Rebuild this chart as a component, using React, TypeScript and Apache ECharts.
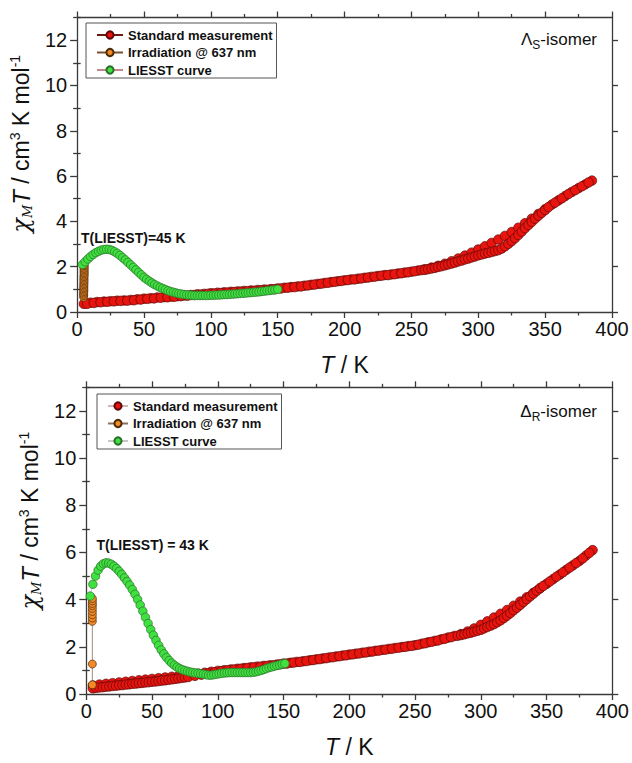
import React, { useEffect, useRef } from "react";
import * as echarts from "echarts";

const FONT = "'Liberation Sans', Arial, Helvetica, sans-serif";
const SERIF = "'DejaVu Serif', 'Liberation Serif', serif";

const xTickInterval = 50;
const yMajorTicks = [0, 2, 4, 6, 8, 10, 12];
const yMinorTicks = [1, 3, 5, 7, 9, 11, 13];
const legendNames = ["Standard measurement", "Irradiation @ 637 nm", "LIESST curve"];

// ---------- Λ_S-isomer (top panel) ----------
const lambdaStdHeating = [
  [5, 0.36], [10, 0.41], [15, 0.44], [20, 0.46], [25, 0.48], [30, 0.5], [35, 0.51], [40, 0.53], [45, 0.56], [50, 0.59],
  [55, 0.61], [60, 0.64], [65, 0.66], [70, 0.68], [75, 0.7], [80, 0.73], [85, 0.75], [90, 0.78], [95, 0.8], [100, 0.83],
  [105, 0.85], [110, 0.87], [115, 0.89], [120, 0.91], [125, 0.93], [130, 0.95], [135, 0.97], [140, 0.99], [145, 1.01], [150, 1.04],
  [155, 1.07], [160, 1.1], [165, 1.13], [170, 1.16], [175, 1.2], [180, 1.24], [185, 1.28], [190, 1.32], [195, 1.36], [200, 1.4],
  [205, 1.44], [210, 1.47], [215, 1.51], [220, 1.55], [225, 1.59], [230, 1.63], [235, 1.66], [240, 1.7], [245, 1.74], [250, 1.78],
  [255, 1.83], [260, 1.89], [265, 1.96], [270, 2.04], [275, 2.13], [280, 2.24], [285, 2.36], [290, 2.49], [295, 2.62], [300, 2.76],
  [305, 2.9], [310, 3.05], [315, 3.2], [320, 3.36], [325, 3.53], [330, 3.72], [335, 3.92], [340, 4.12], [345, 4.33], [350, 4.54],
  [355, 4.74], [360, 4.93], [365, 5.12], [370, 5.3], [375, 5.47], [380, 5.63], [385, 5.8],
];
const lambdaStdCooling = [
  [7.5, 0.36], [12.5, 0.4], [17.5, 0.43], [22.5, 0.45], [27.5, 0.47], [32.5, 0.49], [37.5, 0.5], [42.5, 0.52], [47.5, 0.55],
  [52.5, 0.58], [57.5, 0.6], [62.5, 0.63], [67.5, 0.65], [72.5, 0.67], [77.5, 0.7], [82.5, 0.72], [87.5, 0.75], [92.5, 0.77],
  [97.5, 0.8], [102.5, 0.82], [107.5, 0.84], [112.5, 0.86], [117.5, 0.88], [122.5, 0.9], [127.5, 0.92], [132.5, 0.94],
  [137.5, 0.96], [142.5, 0.98], [147.5, 1.01], [152.5, 1.04], [157.5, 1.07], [162.5, 1.1], [167.5, 1.13], [172.5, 1.17],
  [177.5, 1.21], [182.5, 1.25], [187.5, 1.29], [192.5, 1.33], [197.5, 1.37], [202.5, 1.41], [207.5, 1.44], [212.5, 1.48],
  [217.5, 1.52], [222.5, 1.56], [227.5, 1.6], [232.5, 1.63], [237.5, 1.67], [242.5, 1.71], [247.5, 1.75], [252.5, 1.8],
  [257.5, 1.85], [260, 1.86], [262.5, 1.89], [265, 1.92], [267.5, 1.95], [270, 1.99], [272.5, 2.02], [275, 2.06], [277.5, 2.1],
  [280, 2.14], [282.5, 2.18], [285, 2.23], [287.5, 2.27], [290, 2.32], [292.5, 2.36], [295, 2.41], [297.5, 2.45], [300, 2.5],
  [302.5, 2.54], [305, 2.58], [307.5, 2.61], [310, 2.65], [312.5, 2.69], [315, 2.73], [317.5, 2.8], [320, 2.9], [322.5, 3.01],
  [325, 3.13], [327.5, 3.26], [330, 3.4], [332.5, 3.55], [335, 3.7], [337.5, 3.84], [340, 3.98], [342.5, 4.12], [345, 4.25],
  [347.5, 4.38], [350, 4.5], [352.5, 4.63], [357.5, 4.83], [362.5, 5.02], [367.5, 5.21], [372.5, 5.38], [377.5, 5.55],
  [382.5, 5.72],
];
const lambdaIrradiation = [
  [4.9, 0.65], [4.9, 0.72], [4.9, 0.78], [4.9, 0.84], [5.0, 0.9], [5.0, 0.96], [5.0, 1.02], [5.0, 1.08], [5.0, 1.14],
  [5.0, 1.2], [5.1, 1.26], [5.1, 1.32], [5.1, 1.38], [5.1, 1.44], [5.1, 1.5], [5.1, 1.56], [5.2, 1.62], [5.2, 1.68],
  [5.2, 1.74], [5.2, 1.8], [5.2, 1.86], [5.2, 1.92], [5.2, 1.98], [5.2, 2.04], [5.2, 2.08],
];
const lambdaLiesst = [
  [4, 2.1], [6, 2.22], [8, 2.34], [10, 2.45], [12, 2.54], [14, 2.62], [16, 2.68], [18, 2.73], [20, 2.76], [22, 2.77],
  [24, 2.76], [26, 2.72], [28, 2.66], [30, 2.59], [32, 2.5], [34, 2.4], [36, 2.3], [38, 2.19], [40, 2.08], [42, 1.97],
  [44, 1.86], [46, 1.75], [48, 1.64], [50, 1.53], [52, 1.44], [54, 1.36], [56, 1.28], [58, 1.21], [60, 1.15], [62, 1.09],
  [64, 1.04], [66, 0.99], [68, 0.94], [70, 0.9], [72, 0.87], [74, 0.84], [76, 0.81], [78, 0.79], [80, 0.77], [82, 0.76],
  [84, 0.75], [86, 0.74], [88, 0.73], [90, 0.73], [92, 0.73], [94, 0.73], [96, 0.73], [98, 0.73], [100, 0.74], [102, 0.74],
  [104, 0.75], [106, 0.75], [108, 0.76], [110, 0.77], [112, 0.77], [114, 0.78], [116, 0.79], [118, 0.8], [120, 0.81], [122, 0.82],
  [124, 0.83], [126, 0.84], [128, 0.85], [130, 0.86], [132, 0.87], [134, 0.88], [136, 0.89], [138, 0.91], [140, 0.92], [142, 0.94],
  [144, 0.95], [146, 0.97], [148, 0.98], [150, 1.0],
];

// ---------- Δ_R-isomer (bottom panel) ----------
const deltaStdHeating = [
  [5, 0.36], [10, 0.4], [15, 0.43], [20, 0.46], [25, 0.49], [30, 0.52], [35, 0.55], [40, 0.58], [45, 0.61], [50, 0.64],
  [55, 0.67], [60, 0.7], [65, 0.73], [70, 0.76], [75, 0.79], [80, 0.82], [85, 0.86], [90, 0.9], [95, 0.94], [100, 0.98],
  [105, 1.01], [110, 1.04], [115, 1.07], [120, 1.1], [125, 1.13], [130, 1.16], [135, 1.19], [140, 1.22], [145, 1.25], [150, 1.29],
  [155, 1.32], [160, 1.36], [165, 1.39], [170, 1.43], [175, 1.47], [180, 1.51], [185, 1.55], [190, 1.59], [195, 1.63], [200, 1.67],
  [205, 1.71], [210, 1.75], [215, 1.79], [220, 1.83], [225, 1.87], [230, 1.91], [235, 1.95], [240, 1.99], [245, 2.03], [250, 2.07],
  [255, 2.13], [260, 2.19], [265, 2.25], [270, 2.32], [275, 2.39], [280, 2.46], [285, 2.54], [290, 2.65], [295, 2.78], [300, 2.93],
  [305, 3.08], [310, 3.24], [315, 3.4], [320, 3.56], [325, 3.74], [330, 3.92], [335, 4.1], [340, 4.29], [345, 4.48], [350, 4.67],
  [355, 4.87], [360, 5.06], [365, 5.26], [370, 5.45], [375, 5.64], [380, 5.87], [385, 6.1],
];
const deltaStdCooling = [
  [5, 0.24], [7.5, 0.26], [10, 0.28], [12.5, 0.29], [15, 0.31], [17.5, 0.32], [20, 0.34], [22.5, 0.35], [25, 0.37],
  [27.5, 0.38], [30, 0.4], [32.5, 0.41], [35, 0.43], [37.5, 0.44], [40, 0.46], [42.5, 0.47], [45, 0.49], [47.5, 0.5],
  [50, 0.52], [52.5, 0.53], [55, 0.55], [57.5, 0.57], [60, 0.58], [62.5, 0.6], [65, 0.62], [67.5, 0.64], [70, 0.66],
  [72.5, 0.68], [75, 0.7], [77.5, 0.72], [82.5, 0.77], [87.5, 0.82], [92.5, 0.87], [97.5, 0.92], [102.5, 0.97], [107.5, 1.01],
  [112.5, 1.04], [117.5, 1.07], [122.5, 1.1], [127.5, 1.13], [132.5, 1.16], [137.5, 1.19], [142.5, 1.22], [147.5, 1.26],
  [152.5, 1.29], [157.5, 1.33], [162.5, 1.36], [167.5, 1.4], [172.5, 1.44], [177.5, 1.48], [182.5, 1.52], [187.5, 1.56],
  [192.5, 1.6], [197.5, 1.64], [202.5, 1.68], [207.5, 1.72], [212.5, 1.76], [217.5, 1.8], [222.5, 1.84], [227.5, 1.88],
  [232.5, 1.92], [237.5, 1.96], [242.5, 2.0], [247.5, 2.04], [252.5, 2.09], [257.5, 2.15], [262.5, 2.21], [267.5, 2.27],
  [272.5, 2.34], [277.5, 2.41], [282.5, 2.47], [285, 2.5], [287.5, 2.53], [290, 2.57], [292.5, 2.6], [295, 2.64], [297.5, 2.68],
  [300, 2.72], [302.5, 2.78], [305, 2.84], [307.5, 2.9], [310, 2.96], [312.5, 3.04], [315, 3.12], [317.5, 3.22], [320, 3.32],
  [322.5, 3.43], [325, 3.55], [327.5, 3.66], [330, 3.78], [332.5, 3.9], [335, 4.02], [337.5, 4.14], [340, 4.25], [342.5, 4.37],
  [345, 4.48], [347.5, 4.58], [352.5, 4.77], [357.5, 4.97], [362.5, 5.16], [367.5, 5.36], [372.5, 5.55], [377.5, 5.75],
  [382.5, 5.98],
];
const deltaIrradiation = [
  [4.6, 0.39], [4.6, 1.27], [4.6, 3.08], [4.6, 3.22], [4.6, 3.36], [4.6, 3.5], [4.6, 3.63], [4.6, 3.75], [4.6, 3.84],
  [4.6, 3.95], [4.6, 4.05],
];
const deltaLiesst = [
  [3, 4.15], [5, 4.65], [7, 5.0], [9, 5.25], [11, 5.42], [13, 5.52], [15, 5.56], [17, 5.55], [19, 5.5], [21, 5.42],
  [23, 5.32], [25, 5.2], [27, 5.07], [29, 4.92], [31, 4.77], [33, 4.61], [35, 4.43], [37, 4.23], [39, 4.01], [41, 3.77],
  [43, 3.51], [45, 3.25], [47, 2.99], [49, 2.73], [51, 2.49], [53, 2.27], [55, 2.06], [57, 1.87], [59, 1.7], [61, 1.55],
  [63, 1.42], [65, 1.31], [67, 1.22], [69, 1.14], [71, 1.08], [73, 1.03], [75, 0.99], [77, 0.96], [79, 0.93], [81, 0.91],
  [83, 0.89], [85, 0.88], [87, 0.86], [89, 0.84], [91, 0.82], [93, 0.8], [95, 0.8], [97, 0.82], [99, 0.84], [101, 0.86],
  [103, 0.88], [105, 0.89], [107, 0.9], [109, 0.91], [111, 0.91], [113, 0.91], [115, 0.91], [117, 0.91], [119, 0.91], [121, 0.91],
  [123, 0.91], [125, 0.91], [127, 0.92], [129, 0.94], [131, 0.97], [133, 1.0], [135, 1.04], [137, 1.08], [139, 1.12], [141, 1.15],
  [143, 1.18], [145, 1.21], [147, 1.24], [149, 1.27], [151, 1.29],
];

const RED = "#e8140e";
const RED_EDGE = "#5a0808";
const ORANGE = "#f28a26";
const ORANGE_EDGE = "#4a2a08";
const GREEN = "#3fe03f";
const GREEN_EDGE = "#2a6e2a";
const AXIS = "#3a3a3a";
const TEXT = "#111";

type Panel = {
  top: number;
  height: number;
  grid: { left: number; right: number; top: number; height: number };
  legend: { left: number; top: number; itemWidth: number };
  std: number[][][];
  irr: number[][];
  liesst: number[][];
  lines: { std: string; irr: string; liesst: string };
  isoMain: string;
  isoSub: string;
  isoY: number;
  note: string;
  noteX: number;
  noteY: number;
  yNamePad: number;
};

const panels: Panel[] = [
  {
    top: 0,
    height: 381,
    grid: { left: 76.5, right: 20, top: 17.5, height: 299.2 },
    legend: { left: 86, top: 23, itemWidth: 26 },
    std: [lambdaStdHeating, lambdaStdCooling],
    irr: lambdaIrradiation,
    liesst: lambdaLiesst,
    lines: { std: "#6a1a10", irr: "#7a5030", liesst: "#c08a8a" },
    isoMain: "Λ",
    isoSub: "S",
    isoY: 39,
    note: "T(LIESST)=45 K",
    noteX: 81,
    noteY: 231,
    yNamePad: 42,
  },
  {
    top: 381,
    height: 382,
    grid: { left: 86.3, right: 16.7, top: 6.3, height: 312 },
    legend: { left: 97, top: 13, itemWidth: 20 },
    std: [deltaStdHeating, deltaStdCooling],
    irr: deltaIrradiation,
    liesst: deltaLiesst,
    lines: { std: "#d8b4b4", irr: "#8a7060", liesst: "#c8c8c8" },
    isoMain: "Δ",
    isoSub: "R",
    isoY: 30,
    note: "T(LIESST) = 43 K",
    noteX: 96.5,
    noteY: 156.5,
    yNamePad: 40,
  },
];

function buildOption(p: Panel) {
  const lineStyle = { color: AXIS, width: 1.3 };
  const xCommon = {
    type: "value",
    min: 0,
    max: 400,
    interval: xTickInterval,
    axisLine: { show: true, onZero: false, lineStyle },
    axisTick: { show: true, inside: false, length: 6, lineStyle },
    minorTick: { show: true, splitNumber: 2, length: 3.5, lineStyle },
    splitLine: { show: false },
    minorSplitLine: { show: false },
  };
  const yCommon = {
    type: "value",
    min: 0,
    max: 13,
    interval: 1,
    splitLine: { show: false },
  };
  const mk = (name: string, data: number[][], fill: string, edge: string, line: string, size: number, z: number) => ({
    type: "line",
    name,
    data,
    xAxisIndex: 0,
    yAxisIndex: 0,
    symbol: "circle",
    symbolSize: size,
    showSymbol: true,
    showAllSymbol: true,
    itemStyle: { color: fill, borderColor: edge, borderWidth: 0.7 },
    lineStyle: { color: line, width: 0.8 },
    emphasis: { disabled: true },
    z,
  });
  const series: any[] = [];
  p.std.forEach((d) => series.push(mk(legendNames[0], d, RED, RED_EDGE, p.lines.std, 9.5, 2)));
  series.push(mk(legendNames[1], p.irr, ORANGE, ORANGE_EDGE, p.lines.irr, 8, 3));
  series.push(mk(legendNames[2], p.liesst, GREEN, GREEN_EDGE, p.lines.liesst, 8.5, 4));

  return {
    animation: false,
    backgroundColor: "#fff",
    grid: { left: p.grid.left, right: p.grid.right, top: p.grid.top, height: p.grid.height, containLabel: false },
    legend: {
      data: legendNames,
      orient: "vertical",
      left: p.legend.left,
      top: p.legend.top,
      padding: [5, 4, 1, 10],
      itemWidth: p.legend.itemWidth,
      itemHeight: 9,
      itemGap: 3.5,
      borderColor: "#555",
      borderWidth: 1,
      backgroundColor: "#fff",
      selectedMode: false,
      textStyle: { fontSize: 13, fontWeight: "bold", fontFamily: FONT, color: TEXT, lineHeight: 14 },
    },
    xAxis: [
      {
        ...xCommon,
        position: "bottom",
        axisLabel: { fontSize: 20, color: TEXT, fontFamily: FONT, margin: 7 },
        name: "{it|T} / K",
        nameLocation: "middle",
        nameGap: 41,
        nameTextStyle: {
          fontSize: 23,
          color: TEXT,
          fontFamily: FONT,
          rich: { it: { fontSize: 23, fontStyle: "italic", fontFamily: FONT, color: TEXT } },
        },
      },
      { ...xCommon, position: "top", axisLabel: { show: false } },
    ],
    yAxis: [
      {
        ...yCommon,
        position: "left",
        axisLine: { show: true, onZero: false, lineStyle },
        axisTick: { show: true, length: 7, customValues: yMajorTicks, lineStyle },
        axisLabel: { customValues: yMajorTicks, fontSize: 20, color: TEXT, fontFamily: FONT, margin: 10 },
        name: "{chi|χ}{sub|M}{it|T}{n| / cm}{sup|3}{n| K mol}{sup|-1}",
        nameLocation: "middle",
        nameRotate: 90,
        nameGap: 31,
        nameTextStyle: {
          color: TEXT,
          padding: [0, 0, 0, p.yNamePad],
          rich: {
            chi: { fontFamily: SERIF, fontStyle: "italic", fontSize: 24, lineHeight: 26, color: TEXT },
            sub: { fontFamily: SERIF, fontStyle: "italic", fontSize: 13, lineHeight: 13, verticalAlign: "bottom", color: TEXT },
            it: { fontFamily: FONT, fontStyle: "italic", fontSize: 24, lineHeight: 26, color: TEXT },
            n: { fontFamily: FONT, fontSize: 23, lineHeight: 26, color: TEXT },
            sup: { fontFamily: FONT, fontSize: 14, lineHeight: 14, verticalAlign: "top", color: TEXT },
          },
        },
      },
      {
        ...yCommon,
        position: "left",
        axisLine: { show: false },
        axisTick: { show: true, length: 4, customValues: yMinorTicks, lineStyle },
        axisLabel: { show: false },
      },
      {
        ...yCommon,
        position: "right",
        axisLine: { show: true, onZero: false, lineStyle },
        axisTick: { show: true, length: 6, customValues: yMajorTicks, lineStyle },
        axisLabel: { show: false },
      },
      {
        ...yCommon,
        position: "right",
        axisLine: { show: false },
        axisTick: { show: true, length: 3.5, customValues: yMinorTicks, lineStyle },
        axisLabel: { show: false },
      },
    ],
    graphic: [
      {
        type: "text",
        x: 597,
        y: p.isoY,
        z: 100,
        style: {
          text: `{n|${p.isoMain}}{s|${p.isoSub}}{n|-isomer}`,
          align: "right",
          verticalAlign: "middle",
          rich: {
            n: { fontSize: 17, lineHeight: 24, fontFamily: FONT, fill: TEXT },
            s: { fontSize: 12, lineHeight: 12, verticalAlign: "bottom", fontFamily: FONT, fill: TEXT },
          },
        },
      },
      {
        type: "text",
        x: p.noteX,
        y: p.noteY,
        z: 100,
        style: {
          text: p.note,
          fontSize: 14,
          fontWeight: "bold",
          fontFamily: FONT,
          fill: TEXT,
          align: "left",
          verticalAlign: "top",
        },
      },
    ],
    series,
  };
}

function ChartPanel({ panel }: { panel: Panel }) {
  const ref = useRef<HTMLDivElement>(null);
  useEffect(() => {
    if (!ref.current) return;
    const chart = echarts.init(ref.current, undefined, { renderer: "svg" });
    chart.setOption(buildOption(panel) as any);
    return () => chart.dispose();
  }, [panel]);
  return (
    <div
      ref={ref}
      style={{ position: "absolute", left: 0, top: panel.top, width: 632, height: panel.height }}
    />
  );
}

export default function App() {
  return (
    <div>
      {panels.map((p, i) => (
        <ChartPanel key={i} panel={p} />
      ))}
    </div>
  );
}
